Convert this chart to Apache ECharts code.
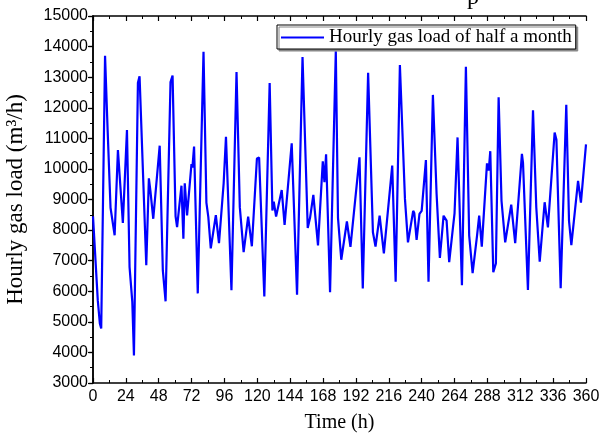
<!DOCTYPE html>
<html>
<head>
<meta charset="utf-8">
<script src="https://cdn.jsdelivr.net/npm/echarts@6/dist/echarts.min.js"></script>
<style>
html,body{margin:0;padding:0;background:#fff;}
#c{width:600px;height:441px;}
</style>
</head>
<body>
<div id="c"></div>
<script>
// Time (h) of each read vertex
var hours = [0,3.5,5,6,7.3,8.8,10.7,12.8,15.8,18.2,21.8,24.8,26.7,28.7,29.9,32.8,34,38.9,40.8,41.9,42.9,44,48.7,51,53,56.6,58.1,60.3,61.4,64.6,66,67,68.7,71.9,72.6,73.8,76.5,77.3,80.7,82.8,84.2,86,89.7,92,95.4,97.1,101.1,104.8,107.2,108.4,110,113.3,116,119.7,121.3,125.1,129,131,132,133.7,137.8,139.9,145.1,149,153,156.8,158.5,160.9,161.8,164.3,167.8,169,170.2,173.1,177.3,178.9,180,181.3,182,185.4,188,194.6,197,200.9,204.4,206.3,209.3,210,212.4,218.5,221,224.1,227.8,230,233.8,234.6,236.3,238.4,240,243.1,245,248.2,250.9,253.3,256,258.2,260.1,262.6,264,266.2,269.4,272.3,274.7,277.2,280.4,282,283.9,287.7,289,290.1,292.3,294.2,296.2,298.3,301,305.4,308.3,313.2,314,317.6,321.3,323.7,326.2,329.8,332.2,337.1,338.4,341.5,345.6,347.6,349.3,354.2,355,356.3,360];
// Hourly gas load (m3/h) at each vertex
var load = [8450,5700,4950,4780,4760,13700,11250,8730,7830,10620,8230,11270,6790,5650,3900,12820,13030,6850,9690,9290,9340,8370,10760,6680,5670,12840,13050,8450,8100,9450,7720,9530,8480,10160,10050,10730,5930,5890,13830,8900,8430,7400,8490,7570,9530,11050,6030,13170,8750,8740,7280,8440,7470,10340,10370,5830,12810,8640,8930,8440,9310,8170,10840,5890,13660,8070,8400,9150,9100,7500,10250,9570,10480,5970,13850,8400,8350,7030,7040,8280,7450,10380,6090,13140,7930,7460,8470,8440,7240,10110,6310,13400,9020,7600,8630,8560,7680,8530,8630,10290,6310,12420,9180,7090,8470,8310,6950,7980,8550,11030,6200,13340,7820,6590,7800,8470,7460,10180,9950,10580,6620,6910,12340,8960,7600,8830,7570,10490,10200,6040,11920,8740,6970,8910,8090,11190,10950,6100,12100,8300,7510,9610,9550,8900,10800];
var seriesName = 'Hourly gas load of half a month';
var xTitle = 'Time (h)';
var yTitle = 'Hourly gas load (m³/h)';

var pts = hours.map(function(h,i){return [h, load[i]];});
var chart = echarts.init(document.getElementById('c'), null, {renderer:'canvas'});
var axisLine = {lineStyle:{color:'#000', width:1.5}};
var labelFont = {fontFamily:'Liberation Sans, Arial, sans-serif', fontSize:16, color:'#000'};
var plain = function(v){ return String(v); };
chart.setOption({
  animation:false,
  backgroundColor:'#fff',
  title:{text:'p', left:462, top:-19, textStyle:{fontFamily:'Liberation Serif, Times New Roman, serif', fontSize:24, fontWeight:'normal', color:'#000'}},
  legend:{
    data:[{name:seriesName, icon:'rect'}], left:277, top:25, padding:[3,4,2,4],
    itemWidth:43, itemHeight:2,
    backgroundColor:'#fff', borderColor:'#000', borderWidth:1,
    shadowColor:'#888', shadowOffsetX:2, shadowOffsetY:2, shadowBlur:0,
    textStyle:{fontFamily:'Liberation Serif, Times New Roman, serif', fontSize:19, color:'#000'}
  },
  grid:{left:93, right:14, top:16, bottom:58, containLabel:false, outerBoundsMode:'none'},
  xAxis:[{
    type:'value', min:0, max:360, interval:24, position:'bottom',
    name:xTitle, nameLocation:'middle', nameGap:30,
    nameTextStyle:{fontFamily:'Liberation Serif, Times New Roman, serif', fontSize:20, color:'#000'},
    axisLine:axisLine, axisTick:{inside:true, length:5, lineStyle:{color:'#000', width:1.2}},
    minorTick:{show:true, splitNumber:2, length:3, lineStyle:{color:'#000', width:1}},
    axisLabel:Object.assign({margin:6, formatter:plain}, labelFont), splitLine:{show:false}
  },{
    type:'value', min:0, max:360, interval:24, position:'top',
    axisLine:axisLine, axisTick:{inside:true, length:5, lineStyle:{color:'#000', width:1.2}},
    minorTick:{show:true, splitNumber:2, length:3, lineStyle:{color:'#000', width:1}},
    axisLabel:{show:false}, splitLine:{show:false}
  }],
  yAxis:[{
    type:'value', min:3000, max:15000, interval:1000, position:'left',
    name:yTitle, nameLocation:'middle', nameGap:66, nameRotate:90,
    nameTextStyle:{fontFamily:'Liberation Serif, Times New Roman, serif', fontSize:23, color:'#000'},
    axisLine:axisLine, axisTick:{inside:false, length:4, lineStyle:{color:'#000', width:1.2}},
    minorTick:{show:true, splitNumber:2, length:3, lineStyle:{color:'#000', width:1}},
    axisLabel:Object.assign({margin:5, formatter:plain}, labelFont), splitLine:{show:false}
  },{
    type:'value', min:3000, max:15000, interval:1000, position:'right',
    axisLine:axisLine, axisTick:{inside:true, length:5, lineStyle:{color:'#000', width:1.2}},
    minorTick:{show:true, splitNumber:2, length:3, lineStyle:{color:'#000', width:1}},
    axisLabel:{show:false}, splitLine:{show:false}
  }],
  series:[{
    name:seriesName, type:'line', data:pts, symbol:'none',
    xAxisIndex:0, yAxisIndex:0,
    lineStyle:{color:'#0000ff', width:2.2}, itemStyle:{color:'#0000ff'}
  }]
});
</script>
</body>
</html>
